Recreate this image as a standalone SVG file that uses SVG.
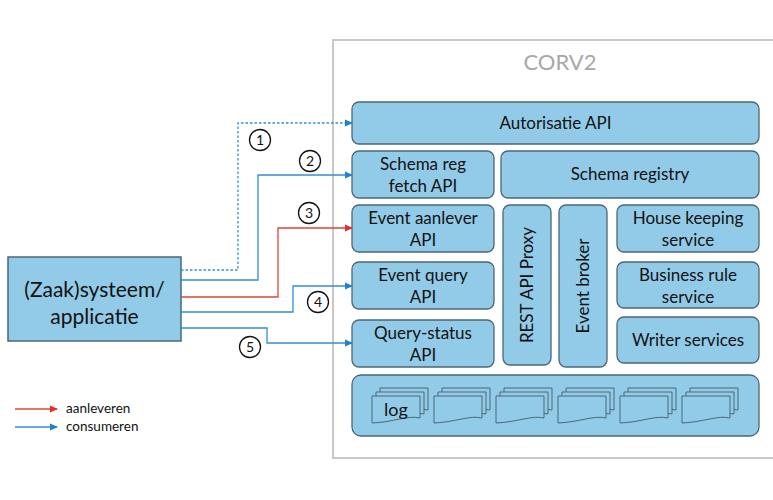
<svg xmlns="http://www.w3.org/2000/svg" width="773" height="500" viewBox="0 0 773 500">
<style>
.box{fill:#92cbe8;stroke:#4a6878;stroke-width:1.3}
.t{font-family:Lato,"Open Sans",sans-serif;font-size:17px;fill:#111;text-anchor:middle}
.big{font-size:21px}
.lg{font-size:18px}
.ln{fill:none;stroke-width:1.3}
.bl{stroke:#2f8fd8}
.rd{stroke:#e0443a}
.num{fill:#fff;stroke:#111;stroke-width:1.3}
.nt{font-family:Lato,"Open Sans",sans-serif;font-size:14px;fill:#111;text-anchor:middle}
.doc{fill:#92cbe8;stroke:#4a6878;stroke-width:1}
.leg{font-family:Lato,"Open Sans",sans-serif;font-size:13.5px;fill:#111}
</style>
<defs>
<marker id="ab" markerWidth="8" markerHeight="8" refX="7" refY="4" orient="auto" markerUnits="userSpaceOnUse"><path d="M0,0.5 L8,4 L0,7.5 Z" fill="#1f7fd0"/></marker>
<marker id="ar" markerWidth="8" markerHeight="8" refX="7" refY="4" orient="auto" markerUnits="userSpaceOnUse"><path d="M0,0.5 L8,4 L0,7.5 Z" fill="#e0302a"/></marker>
<path id="pg" d="M0,0 H48 V22 C36,19 22,26 0,27 Z"/>
<g id="docs" class="doc"><use href="#pg" x="8" y="-8"/><use href="#pg" x="4" y="-4"/><use href="#pg"/></g>
</defs>
<rect width="773" height="500" fill="#fff"/>
<g id="corv2">
<path d="M775,40 H333 V458 H775" fill="none" stroke="#c8c8c8" stroke-width="2"/>
<text x="560" y="70" font-family="Lato,'Open Sans',sans-serif" font-size="22" fill="#a8a8a8" text-anchor="middle">CORV2</text>
</g>
<g id="n-autorisatie"><rect class="box" x="352" y="102" width="407" height="42" rx="7"/><text class="t" x="555.5" y="129">Autorisatie API</text></g>
<g id="n-schemareg"><rect class="box" x="352" y="151" width="142" height="47" rx="7"/><text class="t" x="423" y="170">Schema reg</text><text class="t" x="423" y="192">fetch API</text></g>
<g id="n-schemaregistry"><rect class="box" x="501" y="151" width="258" height="47" rx="7"/><text class="t" x="630" y="180">Schema registry</text></g>
<g id="n-aanlever"><rect class="box" x="352" y="205" width="142" height="47" rx="7"/><text class="t" x="423" y="224">Event aanlever</text><text class="t" x="423" y="246">API</text></g>
<g id="n-query"><rect class="box" x="352" y="262" width="142" height="47" rx="7"/><text class="t" x="423" y="281">Event query</text><text class="t" x="423" y="303">API</text></g>
<g id="n-querystatus"><rect class="box" x="352" y="320" width="142" height="47" rx="7"/><text class="t" x="423" y="339">Query-status</text><text class="t" x="423" y="361">API</text></g>
<g id="n-proxy"><rect class="box" x="503" y="205" width="48" height="160" rx="7"/><text class="t" transform="translate(533,285) rotate(-90)">REST API Proxy</text></g>
<g id="n-broker"><rect class="box" x="559" y="205" width="48" height="162" rx="7"/><text class="t" transform="translate(589,286) rotate(-90)">Event broker</text></g>
<g id="n-housekeeping"><rect class="box" x="617" y="205" width="142" height="47" rx="7"/><text class="t" x="688" y="224">House keeping</text><text class="t" x="688" y="246">service</text></g>
<g id="n-businessrule"><rect class="box" x="617" y="262" width="142" height="46" rx="7"/><text class="t" x="688" y="281">Business rule</text><text class="t" x="688" y="303">service</text></g>
<g id="n-writer"><rect class="box" x="617" y="317" width="142" height="46" rx="7"/><text class="t" x="688" y="346">Writer services</text></g>
<g id="n-log">
<rect class="box" x="352" y="375" width="407" height="61" rx="9"/>
<use href="#docs" x="372" y="396"/>
<use href="#docs" x="434" y="396"/>
<use href="#docs" x="496" y="396"/>
<use href="#docs" x="558" y="396"/>
<use href="#docs" x="620" y="396"/>
<use href="#docs" x="682" y="396"/>
<text class="t lg" x="396" y="416">log</text>
</g>
<g id="n-zaaksysteem"><rect x="8" y="257" width="173" height="84" fill="#92cbe8" stroke="#4a6878" stroke-width="1.5"/><text class="t big" x="94.5" y="297">(Zaak)systeem/</text><text class="t big" x="94.5" y="324">applicatie</text></g>
<g id="connectors">
<path class="ln bl" d="M181,270 H238 V123 H352" stroke-dasharray="2.5,2" marker-end="url(#ab)"/>
<path class="ln bl" d="M181,280 H258 V175 H352" marker-end="url(#ab)"/>
<path class="ln rd" d="M181,297 H278 V228 H352" marker-end="url(#ar)"/>
<path class="ln bl" d="M181,312 H293 V286 H352" marker-end="url(#ab)"/>
<path class="ln bl" d="M181,328 H267 V343 H352" marker-end="url(#ab)"/>
</g>
<g id="labels">
<circle class="num" cx="260" cy="140" r="10.5"/><text class="nt" x="260" y="145">1</text>
<circle class="num" cx="310" cy="161" r="10.5"/><text class="nt" x="310" y="166">2</text>
<circle class="num" cx="309" cy="213" r="10.5"/><text class="nt" x="309" y="218">3</text>
<circle class="num" cx="318" cy="302" r="10.5"/><text class="nt" x="318" y="307">4</text>
<circle class="num" cx="250" cy="347" r="10.5"/><text class="nt" x="250" y="352">5</text>
</g>
<g id="legend">
<line class="ln rd" x1="15" y1="409" x2="57" y2="409" marker-end="url(#ar)"/>
<text class="leg" x="66" y="413">aanleveren</text>
<line class="ln bl" x1="15" y1="427" x2="57" y2="427" marker-end="url(#ab)"/>
<text class="leg" x="66" y="431">consumeren</text>
</g>
</svg>
